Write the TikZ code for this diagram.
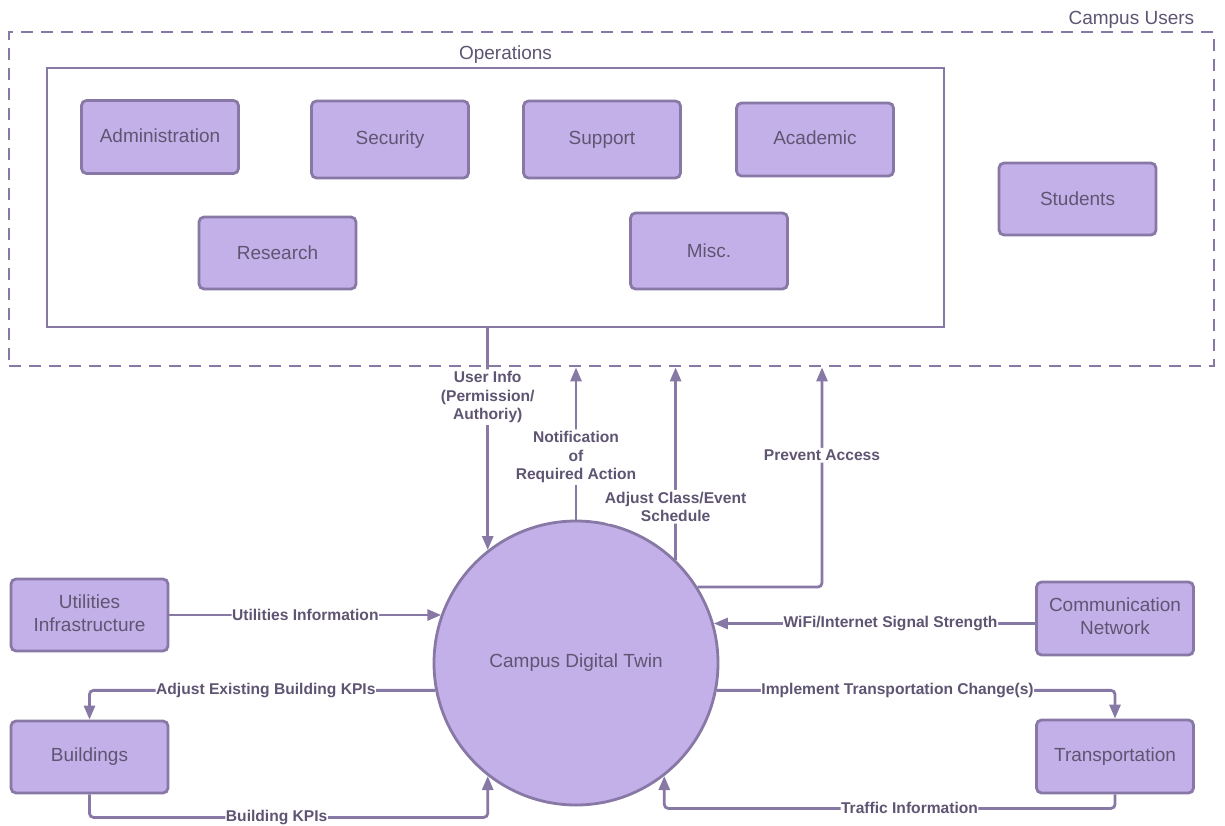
\documentclass[tikz,border=0pt]{standalone}
\usepackage{fontspec}
\setmainfont{Liberation Sans}
\usetikzlibrary{arrows.meta,calc}
\definecolor{boxfill}{RGB}{196,176,232}
\definecolor{edge}{RGB}{135,120,165}
\definecolor{txt}{RGB}{95,85,115}
\newcommand{\twoline}[2]{\raisebox{3pt}{\begin{tabular}{@{}c@{}}#1\\#2\end{tabular}}}
\begin{document}
\begin{tikzpicture}[x=1pt,y=-1pt,
  box/.style={draw=edge,fill=boxfill,line width=2.8pt,rounded corners=5pt,
    minimum width=157pt,minimum height=73pt,text=txt,
    font=\fontsize{19}{23}\selectfont,align=center,inner sep=0pt},
  frame/.style={draw=edge,line width=2.8pt,inner sep=0pt},
  title/.style={text=txt,font=\fontsize{19}{23}\selectfont,inner sep=1pt},
  arr/.style={draw=edge,line width=2.8pt,rounded corners=4pt,
    -{Triangle[width=11pt,length=14pt]}},
  lbl/.style={fill=white,text=txt,font=\bfseries\fontsize{15.6}{18.5}\selectfont,
    inner xsep=0.5pt,inner ysep=2pt,align=center}]
\useasboundingbox (0,0) rectangle (1225,825);
% containers
\node[frame,dash pattern=on 12pt off 8pt,minimum width=1205pt,minimum height=334pt] (users) at (611.5,199) {};
\node[title,anchor=south east] (userst) at ([xshift=-20pt,yshift=1pt]users.north east) {Campus Users};
\node[frame,fill=white,minimum width=897pt,minimum height=259pt] (ops) at (495.5,197.5) {};
\node[title,anchor=south] (opst) at ([xshift=10pt,yshift=2pt]ops.north) {Operations};
% operation boxes
\node[box] (adm) at (160,137) {\raisebox{3pt}{Administration}};
\node[box,minimum height=77pt] (sec) at (390,139.5) {Security};
\node[box,minimum height=77pt] (sup) at (602,139.5) {Support};
\node[box] (aca) at (815,139.5) {\raisebox{3pt}{Academic}};
\node[box,minimum height=72pt] (res) at (277.5,253) {Research};
\node[box,minimum height=76pt] (misc) at (709,251) {Misc.};
\node[box,minimum height=72pt] (stu) at (1077.5,199) {Students};
% digital twin
\node[draw=edge,fill=boxfill,line width=2.8pt,circle,minimum size=284pt,
  text=txt,font=\fontsize{19}{23}\selectfont,inner sep=0pt] (c) at (576,663) {Campus Digital Twin};
% outer systems
\node[box,minimum height=72pt] (util) at (89.5,615) {\twoline{Utilities}{Infrastructure}};
\node[box,minimum height=72pt] (bld) at (89.5,757) {Buildings};
\node[box,minimum height=73pt] (com) at (1115,618.5) {\twoline{Communication}{Network}};
\node[box,minimum height=73pt] (trn) at (1115,756.5) {Transportation};
% vertical connectors
\draw[arr] (c.128 |- ops.south) -- node[lbl,pos=0.31]{User Info\\(Permission/\\Authoriy)} (c.128);
\draw[arr] (c.north) -- node[lbl,pos=0.41]{Notification\\of\\Required Action} (c.north |- users.south);
\draw[arr] (c.46.7) -- node[lbl,pos=0.276]{Adjust Class/Event\\Schedule} (c.46.7 |- users.south);
\draw[arr] (c.32) -| node[lbl,pos=0.8]{Prevent Access} ([xshift=210.5pt]users.south);
% horizontal connectors
\draw[arr] (util.east) -- node[lbl,pos=0.5]{Utilities Information} (util.east -| c.160);
\draw[arr] (com.west |- c.16) -- node[lbl,pos=0.45]{WiFi/Internet Signal Strength} (c.16);
\draw[arr] (c.191) -| node[lbl,pos=0.245]{Adjust Existing Building KPIs} (bld.north);
\draw[arr] (bld.south) -- ++(0,23) -| node[lbl,pos=0.235]{Building KPIs} (c.232);
\draw[arr] (c.-11) -| node[lbl,pos=0.227]{Implement Transportation Change(s)} (trn.north);
\draw[arr] (trn.south) -- ++(0,14) -| node[lbl,pos=0.228]{Traffic Information} (c.-52.5);
\end{tikzpicture}
\end{document}
